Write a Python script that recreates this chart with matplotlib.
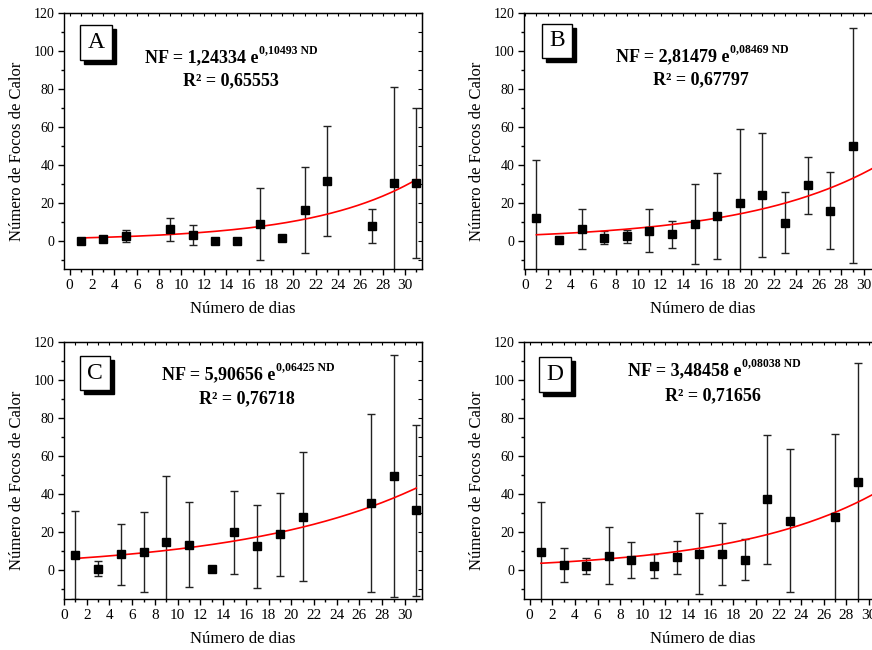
import numpy as np
import matplotlib
matplotlib.use("Agg")
import matplotlib.pyplot as plt
from matplotlib.patches import Rectangle
from matplotlib.ticker import MultipleLocator

plt.rcParams['font.family'] = ['Liberation Serif', 'DejaVu Serif']

# panel A
dias_a = [1, 3, 5, 9, 11, 13, 15, 17, 19, 21, 23, 27, 29, 31]
nf_a = [0, 0.7, 2.3, 6.0, 2.8, 0, 0, 8.8, 1.6, 16.0, 31.6, 7.5, 30.5, 30.5]
err_a = [0, 0, 3.3, 6.0, 5.4, 0, 0, 18.8, 0, 22.7, 29.0, 9.0, 50.5, 39.5]
coef_a, expo_a, r2_a = "1,24334", "0,10493", "0,65553"

# panel B
dias_b = [1, 3, 5, 7, 9, 11, 13, 15, 17, 19, 21, 23, 25, 27, 29]
nf_b = [11.9, 0.3, 6.0, 1.6, 2.3, 5.3, 3.2, 8.9, 13.0, 20.0, 23.9, 9.5, 29.1, 15.8, 50.0]
err_b = [30.7, 0, 10.5, 3.3, 3.5, 11.2, 7.3, 21.0, 22.8, 39.0, 32.8, 16.0, 15.0, 20.4, 62.0]
coef_b, expo_b, r2_b = "2,81479", "0,08469", "0,67797"

# panel C
dias_c = [1, 3, 5, 7, 9, 11, 13, 15, 17, 19, 21, 27, 29, 31]
nf_c = [8.0, 1.0, 8.6, 9.8, 14.7, 13.5, 0.6, 20.0, 12.6, 18.9, 28.3, 35.3, 49.7, 31.7]
err_c = [23.0, 3.7, 16.0, 21.0, 35.0, 22.4, 0, 21.8, 21.8, 21.7, 33.8, 46.8, 63.5, 44.9]
coef_c, expo_c, r2_c = "5,90656", "0,06425", "0,76718"

# panel D
dias_d = [1, 3, 5, 7, 9, 11, 13, 15, 17, 19, 21, 23, 27, 29]
nf_d = [9.6, 2.8, 2.1, 7.7, 5.4, 2.3, 6.8, 8.9, 8.4, 5.6, 37.3, 26.2, 28.2, 46.4]
err_d = [26.6, 8.8, 4.2, 15.0, 9.6, 6.3, 8.6, 21.2, 16.3, 10.7, 33.8, 37.6, 43.7, 62.4]
coef_d, expo_d, r2_d = "3,48458", "0,08038", "0,71656"

W, H = 872, 650
fig = plt.figure(figsize=(W / 100, H / 100), dpi=100)


def px_axes(left, top, width, height):
    return fig.add_axes([left / W, 1 - (top + height) / H, width / W, height / H])


def panel(ax, letra, dias, nf, err, coef, expo, r2, xlim, box_px, eq_px):
    ax.errorbar(dias, nf, yerr=err, fmt='none', ecolor='#222222', elinewidth=1.0,
                capsize=3, capthick=1.0, zorder=2)
    ax.plot(dias, nf, 's', color='black', markersize=6, zorder=4)
    a = float(coef.replace(',', '.'))
    b = float(expo.replace(',', '.'))
    xs = np.linspace(1, 31, 200)
    ax.plot(xs, a * np.exp(b * xs), color='red', lw=1.2, zorder=3)

    ax.set_xlim(*xlim)
    ax.set_ylim(-15, 120)
    ax.xaxis.set_major_locator(MultipleLocator(2))
    ax.xaxis.set_minor_locator(MultipleLocator(1))
    ax.yaxis.set_major_locator(MultipleLocator(20))
    ax.yaxis.set_minor_locator(MultipleLocator(10))
    ax.tick_params(which='major', direction='out', length=4, width=1, pad=3)
    ax.tick_params(axis='x', which='major', labelsize=11)
    ax.tick_params(axis='y', which='major', labelsize=10)
    ax.tick_params(which='minor', direction='out', length=2, width=1)
    for s in ax.spines.values():
        s.set_linewidth(1.0)

    top = ax.secondary_xaxis('top')
    top.xaxis.set_major_locator(MultipleLocator(1))
    top.tick_params(direction='in', length=2, width=0.8, labeltop=False)
    right = ax.secondary_yaxis('right')
    right.yaxis.set_major_locator(MultipleLocator(10))
    right.tick_params(direction='in', length=3, width=0.8, labelright=False)

    ax.set_xlabel('Número de dias', fontsize=12)
    ax.set_ylabel('Número de Focos de Calor', fontsize=12)
    pos = ax.get_position()
    aw, ah = pos.width * W, pos.height * H
    ax.xaxis.set_label_coords(0.5 * 358 / aw, -32 / ah)
    ax.yaxis.set_label_coords(-39 / aw, 0.46)

    # caixa com letra e sombra
    bx, by, bw, bh = box_px
    fig.patches.append(Rectangle(((bx + 4) / W, 1 - (by + bh + 4) / H), bw / W, bh / H,
                                 transform=fig.transFigure, facecolor='black',
                                 edgecolor='black', zorder=5))
    fig.patches.append(Rectangle((bx / W, 1 - (by + bh) / H), bw / W, bh / H,
                                 transform=fig.transFigure, facecolor='white',
                                 edgecolor='black', lw=1.0, zorder=6))
    fig.text((bx + bw / 2) / W, 1 - (by + bh / 2) / H, letra, ha='center', va='center',
             fontsize=17, zorder=7)

    # equacao: parte principal + expoente
    ex_right, ey1, rx, ey2 = eq_px
    t1 = fig.text(ex_right / W, 1 - ey1 / H, 'NF = ' + coef + ' e', ha='right',
                  va='center', fontsize=13, weight='bold')
    ax.annotate(expo + ' ND', xy=(1.0, 0.62), xycoords=t1, xytext=(1, 0),
                textcoords='offset points', ha='left', va='bottom',
                fontsize=8.5, weight='bold', annotation_clip=False)
    fig.text(rx / W, 1 - ey2 / H, 'R² = ' + r2, ha='center', va='center',
             fontsize=13, weight='bold')


ax_a = px_axes(64, 13, 358, 256)
panel(ax_a, 'A', dias_a, nf_a, err_a, coef_a, expo_a, r2_a, (-0.5, 31.5),
      (80, 25, 32, 35), (258, 58, 231, 81))

ax_b = px_axes(524, 13, 357, 256)
panel(ax_b, 'B', dias_b, nf_b, err_b, coef_b, expo_b, r2_b, (-0.1, 31.5),
      (542, 24, 30, 34), (729, 57, 701, 80))

ax_c = px_axes(64, 342, 358, 257)
panel(ax_c, 'C', dias_c, nf_c, err_c, coef_c, expo_c, r2_c, (0, 31.5),
      (80, 356, 30, 34), (275, 375, 247, 399))

ax_d = px_axes(524, 342, 362, 257)
panel(ax_d, 'D', dias_d, nf_d, err_d, coef_d, expo_d, r2_d, (-0.5, 31.5),
      (539, 357, 32, 35), (741, 371, 713, 396))

fig.savefig('out.png', dpi=100)
